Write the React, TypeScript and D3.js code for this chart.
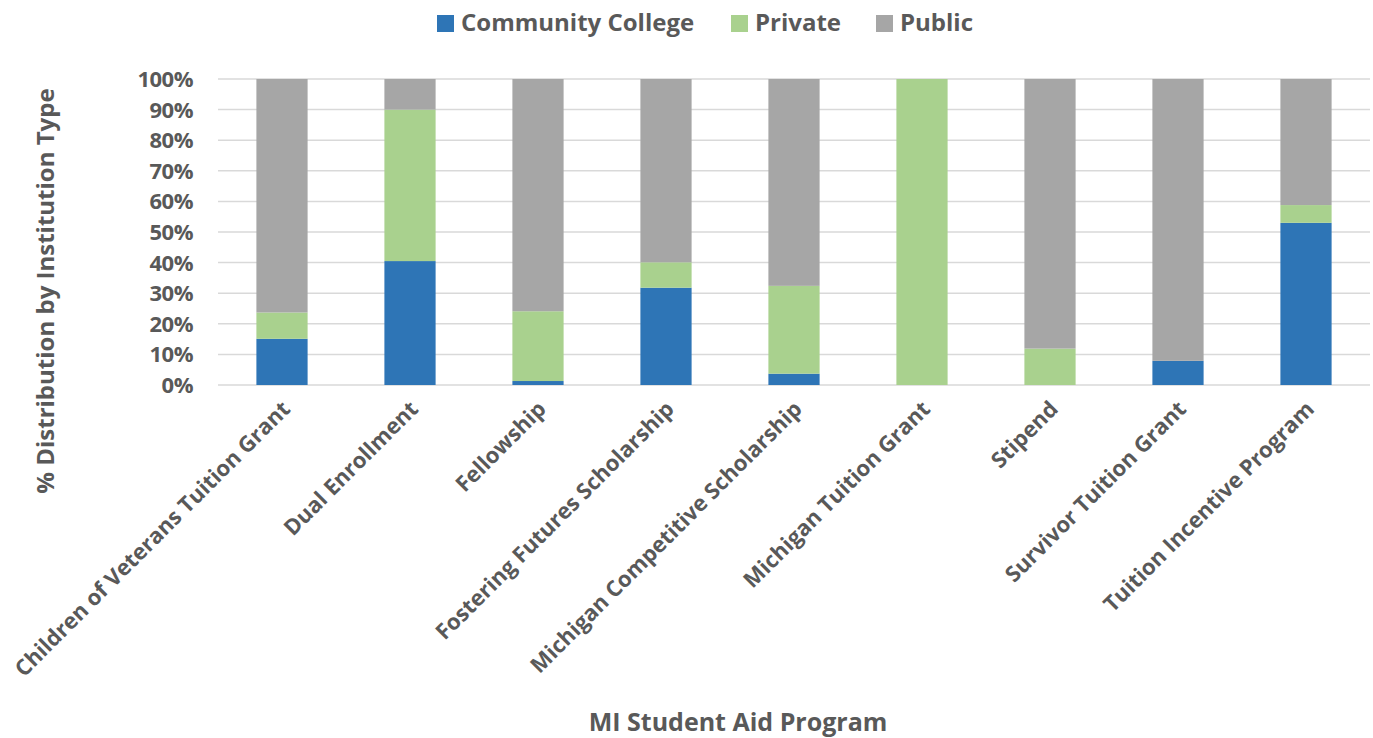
import { useEffect, useRef } from "react";
import * as d3 from "d3";

const programs = [
  "Children of Veterans Tuition Grant",
  "Dual Enrollment",
  "Fellowship",
  "Fostering Futures Scholarship",
  "Michigan Competitive Scholarship",
  "Michigan Tuition Grant",
  "Stipend",
  "Survivor Tuition Grant",
  "Tuition Incentive Program",
];
const communityCollege = [15.1, 40.5, 1.3, 31.8, 3.7, 0, 0, 7.9, 53.0];
const privateShare = [8.6, 49.5, 22.8, 8.3, 28.7, 100, 11.9, 0, 5.8];
const publicShare = [76.3, 10.0, 75.9, 59.9, 67.6, 0, 88.1, 92.1, 41.2];
const seriesNames = ["Community College", "Private", "Public"];
const seriesColors = ["#2E75B6", "#A9D18E", "#A6A6A6"];
const yTicks = [0, 10, 20, 30, 40, 50, 60, 70, 80, 90, 100];

const W = 1373;
const H = 738;
const FONT = "'Open Sans', sans-serif";
const TEXT = "#595959";

export default function App() {
  const ref = useRef<SVGSVGElement | null>(null);

  useEffect(() => {
    const svg = d3.select(ref.current);
    svg.selectAll("*").remove();

    const margin = { top: 79, right: 3, bottom: 353, left: 218 };
    const x = d3
      .scaleBand<string>()
      .domain(programs)
      .range([margin.left, W - margin.right])
      .paddingInner(0.6)
      .paddingOuter(0.3);
    const y = d3.scaleLinear().domain([0, 100]).range([H - margin.bottom, margin.top]);

    // gridlines
    svg
      .append("g")
      .selectAll("line")
      .data(yTicks)
      .join("line")
      .attr("x1", margin.left)
      .attr("x2", W - margin.right)
      .attr("y1", (d) => y(d))
      .attr("y2", (d) => y(d))
      .attr("stroke", "#D9D9D9")
      .attr("stroke-width", 1.5);

    // y tick labels
    svg
      .append("g")
      .selectAll("text")
      .data(yTicks)
      .join("text")
      .attr("x", 193)
      .attr("y", (d) => y(d))
      .attr("dy", "0.36em")
      .attr("text-anchor", "end")
      .attr("fill", TEXT)
      .style("font", `bold 22px ${FONT}`)
      .style("letter-spacing", "-0.5px")
      .text((d) => `${d}%`);

    const rows = programs.map((p, i) => ({
      program: p,
      "Community College": communityCollege[i],
      Private: privateShare[i],
      Public: publicShare[i],
    }));
    const stacked = d3.stack<any>().keys(seriesNames)(rows);

    svg
      .append("g")
      .selectAll("g")
      .data(stacked)
      .join("g")
      .attr("fill", (_d, i) => seriesColors[i])
      .selectAll("rect")
      .data((s) => s.filter((d) => d[1] - d[0] > 0))
      .join("rect")
      .attr("x", (d) => x(d.data.program)!)
      .attr("width", x.bandwidth())
      .attr("y", (d) => y(d[1]))
      .attr("height", (d) => y(d[0]) - y(d[1]));

    // x labels rotated
    svg
      .append("g")
      .selectAll("text")
      .data(programs)
      .join("text")
      .attr(
        "transform",
        (d) => `translate(${x(d)! + x.bandwidth() / 2 + 4},${H - margin.bottom + 20}) rotate(-45)`
      )
      .attr("text-anchor", "end")
      .attr("dy", "0.35em")
      .attr("fill", TEXT)
      .style("font", `bold 22px ${FONT}`)
      .text((d) => d);

    // axis titles
    svg
      .append("text")
      .attr("transform", `translate(46,291) rotate(-90)`)
      .attr("text-anchor", "middle")
      .attr("dy", "0.35em")
      .attr("fill", TEXT)
      .style("font", `bold 24px ${FONT}`)
      .text("% Distribution by Institution Type");

    svg
      .append("text")
      .attr("x", 738)
      .attr("y", 722)
      .attr("text-anchor", "middle")
      .attr("dy", "0.35em")
      .attr("fill", TEXT)
      .style("font", `bold 25px ${FONT}`)
      .text("MI Student Aid Program");

    // legend
    const legendX = [437, 731, 876];
    const lg = svg
      .append("g")
      .selectAll("g")
      .data(seriesNames)
      .join("g")
      .attr("transform", (_d, i) => `translate(${legendX[i]},23)`);
    lg.append("rect")
      .attr("x", 0)
      .attr("y", -8)
      .attr("width", 17)
      .attr("height", 17)
      .attr("fill", (_d, i) => seriesColors[i]);
    lg.append("text")
      .attr("x", 24)
      .attr("dy", "0.35em")
      .attr("fill", TEXT)
      .style("font", `bold 24px ${FONT}`)
      .text((d) => d);
  }, []);

  return (
    <svg
      ref={ref}
      width={W}
      height={H}
      style={{ position: "absolute", left: 0, top: 0, background: "#fff" }}
    />
  );
}
